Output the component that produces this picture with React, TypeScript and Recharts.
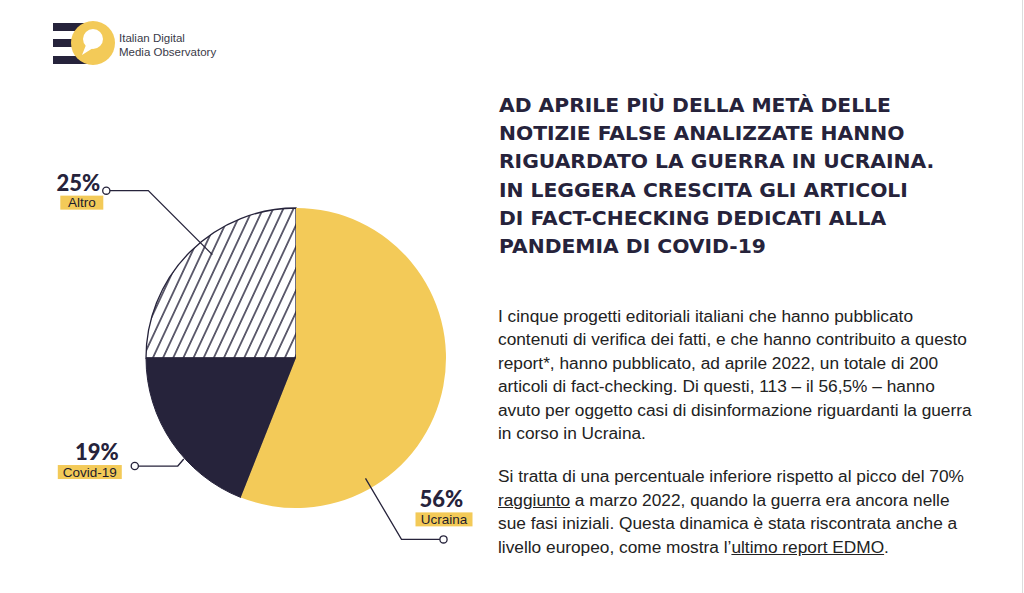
import { PieChart, Pie, Cell } from 'recharts';

const CATEGORIES = ['Altro', 'Covid-19', 'Ucraina'];
const SHARES = [25, 19, 56];

const TITLE_LINES = [
    'AD APRILE PIÙ DELLA METÀ DELLE',
    'NOTIZIE FALSE ANALIZZATE HANNO',
    'RIGUARDATO LA GUERRA IN UCRAINA.',
    'IN LEGGERA CRESCITA GLI ARTICOLI',
    'DI FACT-CHECKING DEDICATI ALLA',
    'PANDEMIA DI COVID-19',
];

const NAVY = '#26233b';
const YELLOW = '#f3ca58';

// leader line layout for each slice (angle/radius of the inner end, elbow offset, horizontal run)
const LEADERS = [
    { angle: 129, r: 133, elbow: [-64, -64], run: -42, pct: [-6, 0], side: 'end' },
    { angle: 222, r: 151, elbow: [-6, 7], run: -43, pct: [-16, -6], side: 'end' },
    { angle: 300, r: 139, elbow: [36, 61], run: 42, pct: [-24, -32], side: 'start' },
];

const PIE_CX = 296;
const PIE_CY = 358;
const PIE_R = 150;

const data = CATEGORIES.map((name, i) => ({ name, value: SHARES[i] }));

const renderLabel = (p: any) => {
    const cx = p.cx ?? PIE_CX;
    const cy = p.cy ?? PIE_CY;
    const L = LEADERS[p.index];
    const rad = Math.PI / 180;
    const ax = cx + L.r * Math.cos(L.angle * rad);
    const ay = cy - L.r * Math.sin(L.angle * rad);
    const ex = ax + L.elbow[0];
    const ey = ay + L.elbow[1];
    const dx = ex + L.run;
    const tx = dx + L.pct[0];
    const ty = ey + L.pct[1];
    const name = data[p.index].name;
    const boxW = name.length * 7 + 8;
    const boxX = L.side === 'end' ? tx + 3 - boxW : tx - 4;
    return (
        <g key={`lbl-${p.index}`}>
            <polyline points={`${ax},${ay} ${ex},${ey} ${dx},${ey}`} fill="none" stroke={NAVY} strokeWidth={1.3} />
            <circle cx={dx} cy={ey} r={3.6} fill="#fff" stroke={NAVY} strokeWidth={1.3} />
            <text x={tx} y={ty} textAnchor={L.side} fill={NAVY} fontFamily="Lato" fontWeight={900} fontSize={22}>
                {`${data[p.index].value}%`}
            </text>
            <rect x={boxX} y={ty + 5} width={boxW} height={14} fill={YELLOW} />
            <text x={boxX + boxW / 2} y={ty + 16.5} textAnchor="middle" fill="#1d1b2c" fontFamily="Liberation Sans, Arial" fontSize={13.5}>
                {name}
            </text>
        </g>
    );
};

export default function App() {
    return (
        <div style={{ position: 'absolute', left: 0, top: 0, width: 1024, height: 593, background: '#fff', overflow: 'hidden' }}>
            <svg width={0} height={0} style={{ position: 'absolute' }}>
                <defs>
                    <pattern id="hatch" patternUnits="userSpaceOnUse" width={9.2} height={9.2} patternTransform="rotate(25)">
                        <rect width={9.2} height={9.2} fill="#fff" />
                        <line x1={4.6} y1={0} x2={4.6} y2={9.2} stroke={NAVY} strokeWidth={1.4} />
                    </pattern>
                </defs>
            </svg>

            {/* logo */}
            <svg width={120} height={80} style={{ position: 'absolute', left: 0, top: 0 }}>
                <rect x={53} y={23} width={36} height={8} fill={NAVY} />
                <rect x={53} y={39} width={36} height={8} fill={NAVY} />
                <rect x={53} y={56} width={36} height={8} fill={NAVY} />
                <circle cx={93} cy={43} r={22} fill={YELLOW} />
                <circle cx={93} cy={39} r={10} fill="#fff" />
                <polygon points="86,45 82,55 93,48" fill="#fff" />
            </svg>
            <div style={{ position: 'absolute', left: 119, top: 32, fontFamily: 'Liberation Sans, Arial', fontSize: 11.5, lineHeight: '13.5px', color: '#3a3a48' }}>
                Italian Digital<br />Media Observatory
            </div>

            <div style={{ position: 'absolute', left: 0, top: 0 }}>
                <PieChart width={490} height={593} margin={{ top: 0, right: 0, bottom: 0, left: 0 }}>
                    <Pie
                        data={data}
                        dataKey="value"
                        nameKey="name"
                        cx={PIE_CX}
                        cy={PIE_CY}
                        outerRadius={PIE_R}
                        startAngle={90}
                        endAngle={450}
                        label={renderLabel}
                        labelLine={false}
                        isAnimationActive={false}
                    >
                        <Cell key="cell-0" fill="url(#hatch)" stroke={NAVY} strokeWidth={1.3} />
                        <Cell key="cell-1" fill={NAVY} stroke={NAVY} strokeWidth={1} />
                        <Cell key="cell-2" fill={YELLOW} stroke="none" />
                    </Pie>
                </PieChart>
            </div>

            <div style={{ position: 'absolute', left: 499, top: 91, fontFamily: 'DejaVu Sans', fontWeight: 700, fontSize: 20.3, lineHeight: '28.2px', color: NAVY, whiteSpace: 'nowrap' }}>
                {TITLE_LINES.map((l, i) => <div key={i}>{l}</div>)}
            </div>

            <div style={{ position: 'absolute', left: 498, top: 305, fontFamily: 'Liberation Sans, Arial', fontSize: 17.3, lineHeight: '23.4px', color: '#222', whiteSpace: 'nowrap' }}>
                <div>I cinque progetti editoriali italiani che hanno pubblicato</div>
                <div>contenuti di verifica dei fatti, e che hanno contribuito a questo</div>
                <div>report*, hanno pubblicato, ad aprile 2022, un totale di 200</div>
                <div>articoli di fact-checking. Di questi, 113 – il 56,5% – hanno</div>
                <div>avuto per oggetto casi di disinformazione riguardanti la guerra</div>
                <div>in corso in Ucraina.</div>
                <div style={{ marginTop: 20 }}>Si tratta di una percentuale inferiore rispetto al picco del 70%</div>
                <div><span style={{ textDecoration: 'underline' }}>raggiunto</span> a marzo 2022, quando la guerra era ancora nelle</div>
                <div>sue fasi iniziali. Questa dinamica è stata riscontrata anche a</div>
                <div>livello europeo, come mostra l’<span style={{ textDecoration: 'underline' }}>ultimo report EDMO</span>.</div>
            </div>

            <div style={{ position: 'absolute', left: 1022, top: 0, width: 1, height: 593, background: '#dcdcdc' }} />
        </div>
    );
}
